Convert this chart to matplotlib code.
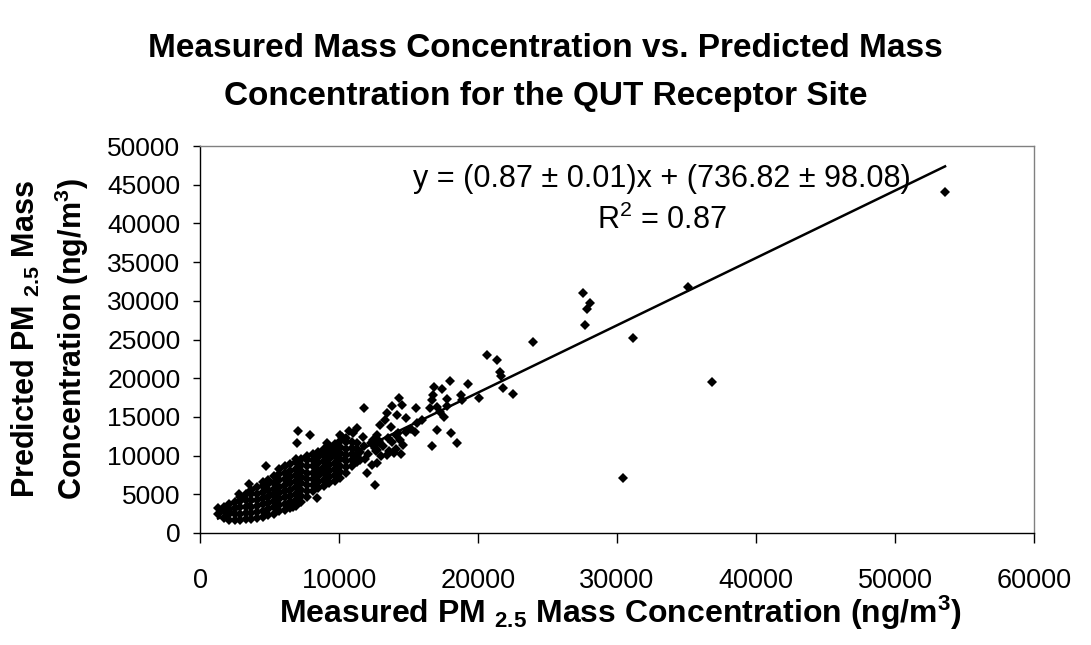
import matplotlib
matplotlib.use("Agg")
import matplotlib.pyplot as plt
import numpy as np

plt.rcParams['font.family'] = ['Liberation Sans', 'DejaVu Sans']
plt.rcParams['mathtext.fontset'] = 'custom'
plt.rcParams['mathtext.rm'] = 'Liberation Sans'
plt.rcParams['mathtext.bf'] = 'Liberation Sans:bold'
plt.rcParams['mathtext.it'] = 'Liberation Sans:italic'

# fitted line from the chart annotation
slope = 0.87
intercept = 736.82

# dense cluster (measured, predicted) in ng/m3
core_points = [
    (1300, 2500), (1300, 3200),
    (1700, 2000), (1700, 2800), (1700, 3400),
    (2100, 1700), (2100, 2400), (2100, 3100), (2100, 3700),
    (2500, 1700), (2500, 2400), (2500, 3200), (2500, 4000),
    (2900, 1700), (2900, 2500), (2900, 3300), (2900, 4100), (2900, 4700),
    (3300, 1800), (3300, 2600), (3300, 3400), (3300, 4200), (3300, 5000),
    (3700, 1800), (3700, 2600), (3700, 3400), (3700, 4200), (3700, 5000), (3700, 5500),
    (4100, 1900), (4100, 2700), (4100, 3500), (4100, 4300), (4100, 5100), (4100, 5900),
    (4500, 2100), (4500, 2900), (4500, 3700), (4500, 4500), (4500, 5300), (4500, 6100), (4500, 6600),
    (4900, 2300), (4900, 3100), (4900, 3900), (4900, 4700), (4900, 5500), (4900, 6300), (4900, 6900),
    (5300, 2500), (5300, 3300), (5300, 4100), (5300, 4900), (5300, 5700), (5300, 6500), (5300, 7300),
    (5700, 2800), (5700, 3600), (5700, 4400), (5700, 5200), (5700, 6000), (5700, 6800), (5700, 7600), (5700, 8300),
    (6100, 3000), (6100, 3800), (6100, 4600), (6100, 5400), (6100, 6200), (6100, 7000), (6100, 7800), (6100, 8600),
    (6500, 3200), (6500, 4000), (6500, 4800), (6500, 5600), (6500, 6400), (6500, 7200), (6500, 8000), (6500, 8900),
    (6900, 3500), (6900, 4300), (6900, 5100), (6900, 5900), (6900, 6700), (6900, 7500), (6900, 8300), (6900, 9200), (6900, 9600),
    (7300, 4000), (7300, 4800), (7300, 5600), (7300, 6400), (7300, 7200), (7300, 8000), (7300, 8800), (7300, 9600),
    (7700, 4600), (7700, 5400), (7700, 6200), (7700, 7000), (7700, 7800), (7700, 8600), (7700, 9400), (7700, 10000),
    (8100, 5400), (8100, 6200), (8100, 7000), (8100, 7800), (8100, 8600), (8100, 9400), (8100, 10200),
    (8500, 5800), (8500, 6600), (8500, 7400), (8500, 8200), (8500, 9000), (8500, 9800), (8500, 10500),
    (8900, 6100), (8900, 6900), (8900, 7700), (8900, 8500), (8900, 9300), (8900, 10100), (8900, 10800),
    (9300, 6400), (9300, 7200), (9300, 8000), (9300, 8800), (9300, 9600), (9300, 10400), (9300, 11100),
    (9700, 6700), (9700, 7500), (9700, 8300), (9700, 9100), (9700, 9900), (9700, 10700), (9700, 11500),
    (10100, 7100), (10100, 7900), (10100, 8700), (10100, 9500), (10100, 10300), (10100, 11100), (10100, 11900),
    (10500, 7700), (10500, 8500), (10500, 9300), (10500, 10100), (10500, 10900), (10500, 11700), (10500, 12300),
    (10900, 8600), (10900, 9400), (10900, 10200), (10900, 11000), (10900, 11800),
    (11300, 9200), (11300, 10000), (11300, 10800), (11300, 11600),
]

# points along the line between the cluster and the outliers
mid_measured = [11500, 11800, 12100, 12300, 12600, 12900, 13200, 13500, 13800, 14100, 14400, 14800,
                15200, 15600, 16000, 11900, 12400, 13000, 13600, 14100, 11700, 11000, 10700]
mid_predicted = [10500, 11200, 10200, 11600, 11000, 11900, 11300, 12300, 11700, 12600, 12000, 13100,
                 13500, 14200, 14600, 9500, 8800, 10000, 10600, 10900, 12400, 12900, 13200]

# scattered points
scatter_measured = [53600, 35080, 27530, 28060, 27820, 27700, 31150, 36830, 30450, 23930,
                    20620, 21340, 21580, 21630, 21800, 22500, 20070, 18780, 19260, 17990,
                    17390, 16860, 16740, 16670, 17750, 17750, 17030, 17270, 17550, 18830,
                    17070, 18040, 18470, 16670, 15540, 15470, 11800, 14320, 13790, 14510,
                    14150, 14820, 13470, 13310, 12950, 13720, 12760, 14220, 11270, 10190,
                    7910, 12660, 13470, 14460, 14630, 7070, 6960, 4750, 2830, 3550,
                    8400, 6670, 9110, 10070, 11990, 12590, 11510, 12470, 12710, 12710,
                    16550, 12830, 13930]
scatter_predicted = [44060, 31820, 30970, 29750, 28900, 26870, 25190, 19510, 7140, 24720,
                     22960, 22350, 20840, 20220, 18730, 17960, 17480, 17830, 19250, 19680,
                     18570, 18820, 17830, 17180, 17270, 16410, 16320, 15670, 14950, 17180,
                     13310, 12960, 11670, 11240, 16110, 13090, 16190, 17400, 16410, 16540,
                     15250, 14820, 15470, 14600, 13950, 13730, 12660, 12960, 13530, 12440,
                     12660, 10630, 10080, 10210, 11370, 13220, 11590, 8660, 5040, 6330,
                     4480, 3400, 11590, 12660, 7710, 6200, 9430, 12020, 10720, 9010,
                     16110, 11800, 10300]

core_measured = [p[0] for p in core_points]
core_predicted = [p[1] for p in core_points]
measured = np.array(core_measured + mid_measured + scatter_measured)
predicted = np.array(core_predicted + mid_predicted + scatter_predicted)

fig = plt.figure(figsize=(10.91, 6.45), dpi=100)
ax = fig.add_axes([200 / 1091, 1 - 533 / 645, 834 / 1091, 387 / 645])

ax.plot(measured, predicted, 'D', color='black', markersize=5.2, markeredgewidth=0, zorder=2)

x_fit = np.array([measured.min(), measured.max()])
ax.plot(x_fit, slope * x_fit + intercept, color='black', linewidth=1.8, zorder=3)

ax.set_xlim(0, 60000)
ax.set_ylim(0, 50000)
ax.set_xticks(np.arange(0, 60001, 10000))
ax.set_yticks(np.arange(0, 50001, 5000))

ax.tick_params(axis='y', direction='out', length=5, width=1, labelsize=19, pad=9)
ax.tick_params(axis='x', direction='out', length=7, width=1, labelsize=19.5, pad=18)
for side in ['left', 'bottom']:
    ax.spines[side].set_color('black')
    ax.spines[side].set_linewidth(1)
for side in ['top', 'right']:
    ax.spines[side].set_color('#808080')
    ax.spines[side].set_linewidth(1)

# x label
fig.text(620 / 1091, 1 - 623 / 645,
         r'Measured PM $_{\mathbf{2.5}}$ Mass Concentration (ng/m$^{\mathbf{3}}$)',
         ha='center', va='baseline', fontsize=23, fontweight='bold')

# two-line y label
fig.text(35 / 1091, 1 - 339 / 645, r'Predicted PM $_{\mathbf{2.5}}$ Mass', rotation=90,
         rotation_mode='anchor', ha='center', va='baseline', fontsize=22, fontweight='bold')
fig.text(82 / 1091, 1 - 339 / 645, r'Concentration (ng/m$^{\mathbf{3}}$)', rotation=90,
         rotation_mode='anchor', ha='center', va='baseline', fontsize=22, fontweight='bold')

# title
fig.text(0.5, 1 - 57 / 645, 'Measured Mass Concentration vs. Predicted Mass',
         ha='center', va='baseline', fontsize=24, fontweight='bold')
fig.text(0.5, 1 - 105 / 645, 'Concentration for the QUT Receptor Site',
         ha='center', va='baseline', fontsize=24, fontweight='bold')

# regression annotation
fig.text(662 / 1091, 1 - 187 / 645, 'y = (0.87 ± 0.01)x + (736.82 ± 98.08)',
         ha='center', va='baseline', fontsize=22)
fig.text(662 / 1091, 1 - 229 / 645, r'R$^{2}$ = 0.87', ha='center', va='baseline', fontsize=22)

plt.savefig('out.png', dpi=100)
